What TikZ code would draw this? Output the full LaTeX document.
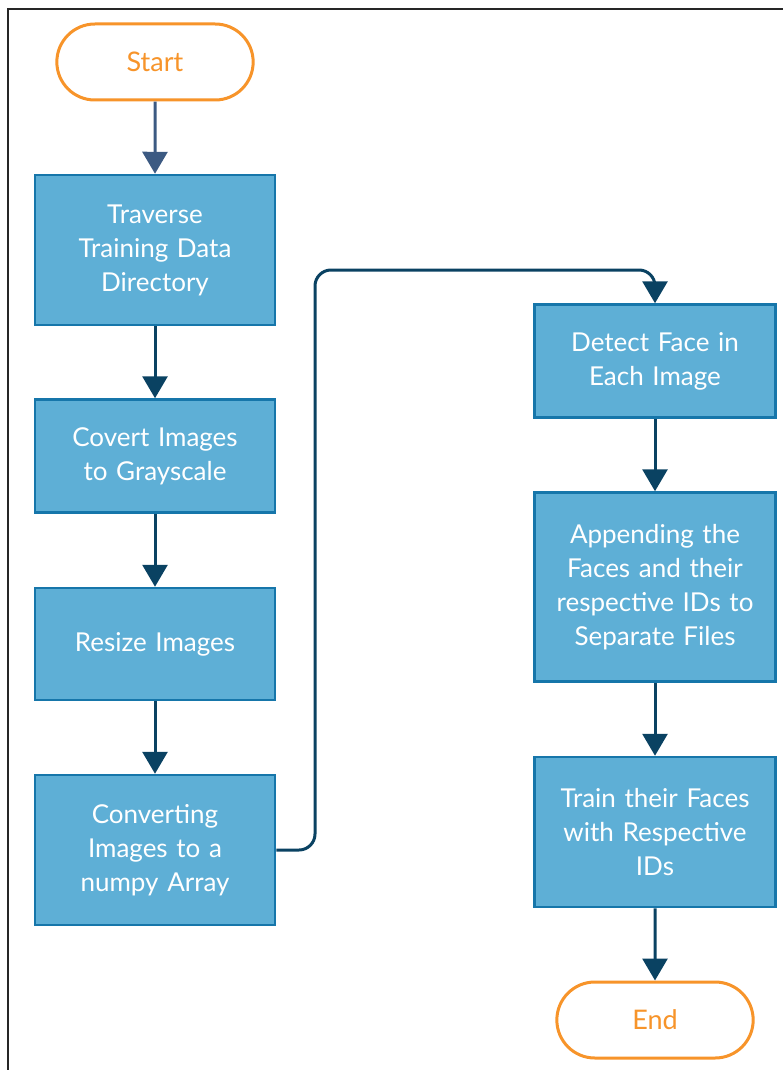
\documentclass[tikz,border=0pt]{standalone}
\usepackage{fontspec}
\setmainfont{Lato}
\usetikzlibrary{shapes,shapes.geometric,arrows.meta,positioning,calc}
\definecolor{boxblue}{RGB}{94,175,214}
\definecolor{edgeblue}{RGB}{22,118,170}
\definecolor{termorange}{RGB}{247,148,42}
\definecolor{linknavy}{RGB}{10,66,98}
\definecolor{startslate}{RGB}{60,90,130}

\begin{document}
\begin{tikzpicture}[
    x=1pt, y=-1pt,
    process/.style={rectangle, draw=edgeblue, line width=2.5pt, fill=boxblue, text=white, minimum width=240pt, text width=232pt, align=center, font=\fontsize{26}{34}\selectfont},
    terminal/.style={rounded rectangle, draw=termorange, line width=3pt, fill=white, text=termorange, minimum width=203pt, minimum height=76pt, font=\fontsize{27}{30}\selectfont},
    arrow/.style={-{Triangle[width=25pt,length=22pt]}, line width=3pt, linknavy}
]
\useasboundingbox (0,0) rectangle (783,1070);
\draw[line width=1.5pt, black!85] (8,1070) -- (8,9) -- (783,9);

% left column
\node[terminal] (start) at (155,62) {Start};
\node[process, minimum height=150pt] (traverse) at (155,250) {Traverse\\Training Data\\Directory};
\node[process, minimum height=113pt] (gray) at (155,456) {Covert Images\\to Grayscale};
\node[process, minimum height=112pt] (resize) at (155,644) {Resize Images};
\node[process, minimum height=150pt] (numpy) at (155,850) {Converting\\Images to a\\numpy Array};

% right column
\node[process, minimum width=241pt, minimum height=113pt] (detect) at (655,361) {Detect Face in\\Each Image};
\node[process, minimum width=241pt, minimum height=189pt] (append) at (655,587) {Appending the\\Faces and their\\respective IDs to\\Separate Files};
\node[process, minimum width=241pt, minimum height=150pt] (train) at (655,832) {Train their Faces\\with Respective\\IDs};
\node[terminal] (end) at (655,1020) {End};

\draw[arrow, startslate] (start) -- (traverse);
\draw[arrow] (traverse) -- (gray);
\draw[arrow] (gray) -- (resize);
\draw[arrow] (resize) -- (numpy);
\draw[arrow, rounded corners=16pt] (numpy.east) -- (315,850) -- (315,270) -- (655,270) -- (detect.north);
\draw[arrow] (detect) -- (append);
\draw[arrow] (append) -- (train);
\draw[arrow] (train) -- (end);

\end{tikzpicture}
\end{document}
